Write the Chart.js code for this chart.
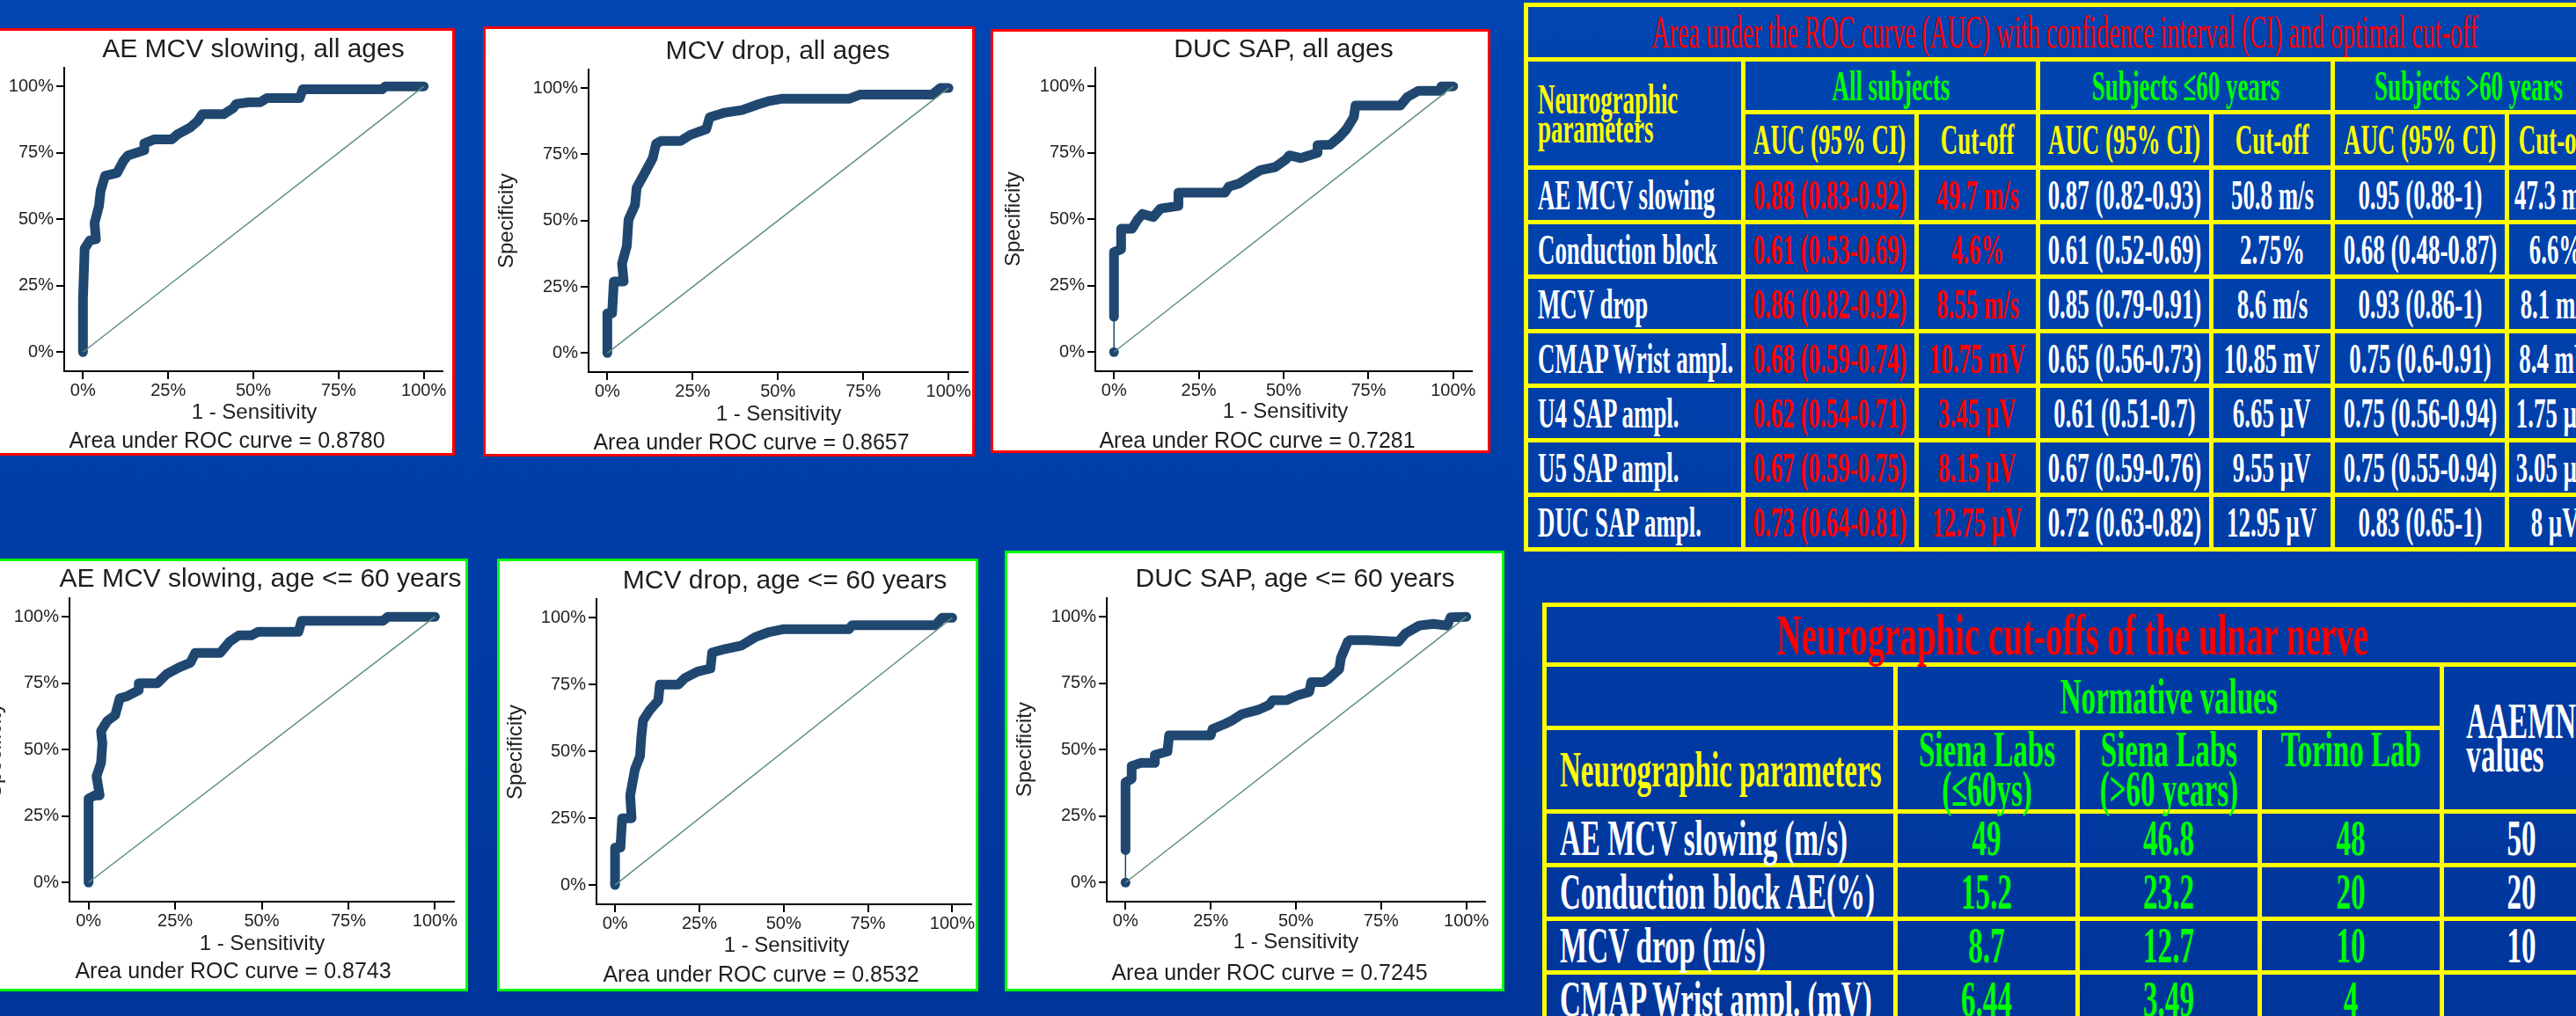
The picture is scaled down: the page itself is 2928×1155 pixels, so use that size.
<!DOCTYPE html>
<html>
<head>
<meta charset="utf-8">
<script src="https://cdn.jsdelivr.net/npm/chart.js@4.4.1/dist/chart.umd.min.js"></script>
<style>
  body { margin:0; width:2928px; height:1155px; overflow:hidden; position:relative;
         background:linear-gradient(180deg,#0045b1 0%,#003da6 55%,#00359a 100%);
         font-family:'Liberation Sans', Arial, sans-serif; }
  .panel { position:absolute; background:#fff; box-sizing:border-box; border:3px solid; overflow:hidden; }
  .panel canvas { position:absolute; left:0; top:0; }
  .lbl { position:absolute; white-space:nowrap; color:#1e1e1e; transform:translate(-50%,-50%); }
  .ttl { font-size:30px; }
  .axt { font-size:24px; }
  .note { font-size:25px; }
  .yt { font-size:24px; transform:translate(-50%,-50%) rotate(-90deg); }

  table { position:absolute; border-collapse:collapse; table-layout:fixed;
          font-family:'Liberation Serif','Times New Roman',serif; font-weight:bold; }
  td { border:5px solid #ffff00; padding:0; vertical-align:middle; overflow:visible; }
  .c { display:flex; justify-content:center; white-space:nowrap; }
  .c span { display:inline-block; transform-origin:50% 50%; }
  .l { justify-content:flex-start; }
  .l span { transform-origin:0 50%; }
  #t1 td { font-size:48px; line-height:50px; }
  #t1 .c span { transform:scaleX(.56); }
  #t1 .l { padding-left:11px; }
  #t2 td { font-size:56px; line-height:56px; }
  #t2 .c span { transform:scaleX(.59); }
  #t2 .l { padding-left:15px; }
  .red { color:#ff0000; } .grn { color:#00ff00; } .yel { color:#ffff00; } .wht { color:#ffffff; }
</style>
</head>
<body>
<div id="panels"></div>
<div id="tables"></div>

<script>
// ROC curves: x = 1 - Sensitivity (%), y = Specificity (%)
const aeAllX = [0, 0, 0.5, 2, 3.8, 3.4, 4.7, 5.2, 6.5, 10, 11.8, 13.2, 18, 18, 20.8, 26, 27.8, 31.5, 33.7, 35, 41.3, 44, 45, 48.8, 52, 54, 63.6, 64.5, 87.8, 88.7, 100];
const aeAllY = [0, 20, 39, 42, 42.5, 48.6, 55, 60.8, 66.3, 67.4, 71.8, 74, 76, 78.5, 80, 80, 82, 84.5, 87, 89.5, 89.5, 91.7, 93.4, 94, 94, 95.6, 95.6, 98.9, 98.9, 100, 100];

const mcvAllX = [0, 0, 1.4, 1.9, 4.8, 4.3, 5.7, 6.2, 8.1, 8.6, 11, 13.3, 14.3, 15.7, 21.4, 24.3, 29, 30, 34, 39.5, 44.3, 47, 51.4, 71, 74, 95.2, 97.6, 100];
const mcvAllY = [0, 15, 15, 27, 27, 33.7, 40.3, 50.3, 55.8, 62.4, 68, 73.5, 79, 80, 80, 82.3, 84.5, 89, 90.6, 91.7, 93.9, 95, 96, 96, 97.5, 97.5, 100, 100];

const ducAllX = [0, 0, 0, 2.1, 2.1, 5.3, 6.9, 8.4, 11.6, 13.7, 19, 19, 32.7, 33.8, 37, 40, 43.2, 47.5, 50.6, 51.7, 55, 60, 60, 63.7, 66.5, 68.6, 70.7, 71.2, 84.4, 86.5, 89.7, 96.5, 96.5, 100];
const ducAllY = [0, 13.3, 37.6, 38.7, 46.4, 46.4, 49.7, 52, 50.8, 54, 55, 60, 60, 62.2, 63.5, 66, 68.5, 69.6, 72.4, 74, 73, 75, 77.9, 78, 81, 84, 88.4, 92.8, 92.8, 96, 98.3, 98.3, 100, 100];

const aeYoungX = [0, 0, 1.8, 3.2, 2.3, 3.6, 4, 3.6, 5.4, 7.7, 9, 10.9, 14.5, 14.5, 19.9, 22.6, 26.2, 29.4, 30.8, 38, 40.7, 43.4, 47, 48.9, 60.6, 61.5, 85, 86.4, 100];
const aeYoungY = [0, 31.6, 32.8, 32.8, 40, 45, 52.3, 57, 60.8, 63, 69.3, 70, 72.4, 75, 75, 78.5, 81, 82.7, 86.4, 86.4, 90.6, 93, 93, 94.3, 94.3, 98.5, 98.5, 100, 100];

const mcvYoungX = [0, 0, 1.6, 2.1, 4.9, 4.5, 5.9, 7.4, 7.8, 8.3, 10.2, 12.8, 13.3, 18.8, 20.7, 24.5, 28.3, 28.8, 32.9, 37.5, 41.5, 45.3, 49.8, 69.3, 70.3, 95, 97, 100];
const mcvYoungY = [0, 14, 14, 25, 25, 33.5, 43.3, 48.2, 55.5, 61.6, 65.3, 69, 75, 75, 77.4, 79.9, 81, 87, 88.4, 89.6, 92.7, 94.5, 95.7, 95.7, 97.2, 97.2, 100, 100];

const ducYoungX = [0, 0, 0, 1.8, 1.8, 4.4, 8.6, 8.6, 12.3, 12.8, 25, 25.5, 29, 31, 34, 39, 42.2, 43.2, 47.3, 50.4, 53.9, 54.5, 58.1, 59.6, 62.7, 63.2, 65.2, 65.8, 70.9, 80.1, 82.1, 86.2, 90.3, 94.4, 95.4, 100];
const ducYoungY = [0, 12.2, 37.7, 39, 43.8, 45, 45, 48, 49.3, 55.4, 55.4, 57.7, 59.6, 60.8, 63.3, 65, 66.9, 68.6, 68.6, 70.4, 71.7, 75.4, 75.4, 76.6, 80.3, 84.5, 90.6, 91.2, 91.2, 90.6, 93.7, 96.7, 97.3, 96.7, 99.8, 100];

const chartTitles = ['AE MCV slowing, all ages', 'MCV drop, all ages', 'DUC SAP, all ages',
                     'AE MCV slowing, age <= 60 years', 'MCV drop, age <= 60 years', 'DUC SAP, age <= 60 years'];
const aucValues = ['0.8780', '0.8657', '0.7281', '0.8743', '0.8532', '0.7245'];
const tickVals = [0, 25, 50, 75, 100];

// table 1
const t1Params = ['AE MCV slowing', 'Conduction block', 'MCV drop', 'CMAP Wrist ampl.', 'U4 SAP ampl.', 'U5 SAP ampl.', 'DUC SAP ampl.'];
const t1AucAll = ['0.88 (0.83-0.92)', '0.61 (0.53-0.69)', '0.86 (0.82-0.92)', '0.68 (0.59-0.74)', '0.62 (0.54-0.71)', '0.67 (0.59-0.75)', '0.73 (0.64-0.81)'];
const t1CutAll = ['49.7 m/s', '4.6%', '8.55 m/s', '10.75 mV', '3.45 µV', '8.15 µV', '12.75 µV'];
const t1AucYoung = ['0.87 (0.82-0.93)', '0.61 (0.52-0.69)', '0.85 (0.79-0.91)', '0.65 (0.56-0.73)', '0.61 (0.51-0.7)', '0.67 (0.59-0.76)', '0.72 (0.63-0.82)'];
const t1CutYoung = ['50.8 m/s', '2.75%', '8.6 m/s', '10.85 mV', '6.65 µV', '9.55 µV', '12.95 µV'];
const t1AucOld = ['0.95 (0.88-1)', '0.68 (0.48-0.87)', '0.93 (0.86-1)', '0.75 (0.6-0.91)', '0.75 (0.56-0.94)', '0.75 (0.55-0.94)', '0.83 (0.65-1)'];
const t1CutOld = ['47.3 m/s', '6.6%', '8.1 m/s', '8.4 mV', '1.75 µV', '3.05 µV', '8 µV'];

// table 2
const t2Params = ['AE MCV slowing (m/s)', 'Conduction block AE(%)', 'MCV drop (m/s)', 'CMAP Wrist ampl. (mV)'];
const t2SienaYoung = ['49', '15.2', '8.7', '6.44'];
const t2SienaOld = ['46.8', '23.2', '12.7', '3.49'];
const t2Torino = ['48', '20', '10', '4'];
const t2Aaemn = ['50', '20', '10', ''];

const seriesX = [aeAllX, mcvAllX, ducAllX, aeYoungX, mcvYoungX, ducYoungX];
const seriesY = [aeAllY, mcvAllY, ducAllY, aeYoungY, mcvYoungY, ducYoungY];
const thinStart = [false, false, true, false, false, true];

// panel boxes and plot areas (outer box coords)
const layout = [
  {box:[-47,32,564,486], area:[120,45,550,390], col:'#ff0000', t:[335,23], xt:[336,436], nt:[305,468], yt:[26,217]},
  {box:[549,30,559,489], area:[120,49,551,393], col:'#ff0000', t:[335,27], xt:[336,440], nt:[305,472], yt:[26,221]},
  {box:[1126,33,568,482], area:[119,44,547,389], col:'#ff0000', t:[333,22], xt:[335,434], nt:[303,467], yt:[25,216]},
  {box:[-41,635,573,492], area:[120,45,557,390], col:'#00ff00', t:[337,22], xt:[339,437], nt:[306,468], yt:[34,218]},
  {box:[565,635,547,492], area:[113,46,544,393], col:'#00ff00', t:[327,24], xt:[329,439], nt:[300,472], yt:[20,220]},
  {box:[1142,626,568,501], area:[116,54,546,399], col:'#00ff00', t:[330,31], xt:[331,444], nt:[301,479], yt:[22,226]}
];

const navy = '#1f4770';
const curveW = 11;
const fam = "'Liberation Sans', Arial, sans-serif";
Chart.defaults.font.family = fam;

function label(parent, cls, text, pos) {
  const d = document.createElement('div');
  d.className = 'lbl ' + cls;
  d.textContent = text;
  d.style.left = (pos[0] - 3) + 'px';
  d.style.top = (pos[1] - 3) + 'px';
  parent.appendChild(d);
}

function makePanel(i) {
  const p = layout[i];
  const div = document.createElement('div');
  div.className = 'panel';
  div.style.left = p.box[0] + 'px';
  div.style.top = p.box[1] + 'px';
  div.style.width = p.box[2] + 'px';
  div.style.height = p.box[3] + 'px';
  div.style.borderColor = p.col;
  const cv = document.createElement('canvas');
  const cw = p.box[2] - 6, ch = p.box[3] - 6;
  cv.width = cw; cv.height = ch;
  cv.style.width = cw + 'px'; cv.style.height = ch + 'px';
  div.appendChild(cv);
  document.getElementById('panels').appendChild(div);

  label(div, 'ttl', chartTitles[i], p.t);
  label(div, 'axt', '1 - Sensitivity', p.xt);
  label(div, 'note', 'Area under ROC curve = ' + aucValues[i], p.nt);
  label(div, 'yt', 'Specificity', p.yt);

  const L = p.area[0] - 3, T = p.area[1] - 3, R = p.area[2] - 3, B = p.area[3] - 3;
  const XH = 40;
  const pts = seriesX[i].map((x, k) => ({x: x, y: seriesY[i][k]}));
  const thin = thinStart[i];

  const axis = (min, max) => ({
    type: 'linear', min: min, max: max,
    afterBuildTicks: s => { s.ticks = tickVals.map(v => ({value: v})); },
    ticks: { callback: v => v + '%', font: {size: 20}, color: '#222', padding: 3, autoSkip: false, maxRotation: 0 },
    grid: { drawOnChartArea: false, drawTicks: true, tickLength: 9, color: '#000', lineWidth: 2 },
    border: { display: true, color: '#000', width: 2 }
  });
  const xAxis = axis(-5.5, 105.5);
  xAxis.afterFit = s => { s.height = XH; };
  xAxis.ticks.padding = 1;
  const yAxis = axis(-7.2, 107);
  yAxis.afterFit = s => { s.width = L; };

  new Chart(cv.getContext('2d'), {
    type: 'scatter',
    data: {
      datasets: [
        { data: [{x:0, y:0}, {x:100, y:100}], showLine: true, borderColor: '#5e8f7e',
          borderWidth: 1.5, pointRadius: 0, order: 0 },
        { data: pts, showLine: true, borderColor: navy, backgroundColor: navy,
          pointBorderWidth: 0, borderWidth: curveW,
          pointRadius: pts.map((q, k) => (thin && k === 0) ? 5.5 : 0),
          borderJoinStyle: 'round', borderCapStyle: 'round',
          segment: { borderWidth: c => (thin && c.p0DataIndex === 0) ? 1.5 : curveW },
          order: 1 }
      ]
    },
    options: {
      responsive: false,
      animation: false,
      layout: { autoPadding: false, padding: { left: 0, top: T, right: cw - R, bottom: ch - B - XH } },
      plugins: { legend: { display: false }, tooltip: { enabled: false } },
      scales: { x: xAxis, y: yAxis }
    }
  });
}

for (let i = 0; i < 6; i++) makePanel(i);

// tables
const cell = (txt, cls, extra) => `<td ${extra || ''}><div class="c ${cls}"><span>${txt}</span></div></td>`;

let t1 = `<table id="t1" style="left:1732px;top:3px;width:1225px">
  <colgroup><col style="width:247px"><col style="width:197px"><col style="width:138px"><col style="width:197px"><col style="width:138px"><col style="width:198px"><col style="width:110px"></colgroup>
  <tr style="height:62px"><td colspan="7"><div class="c red"><span data-w="939" style="font-weight:normal;font-size:52px">Area under the ROC curve (AUC) with confidence interval (CI) and optimal cut-off</span></div></td></tr>
  <tr style="height:60px">
    <td rowspan="2"><div class="c l yel"><span style="line-height:33px">Neurographic<br>parameters</span></div></td>
    ${cell('All subjects', 'grn', 'colspan="2"')}
    ${cell('Subjects ≤60 years', 'grn', 'colspan="2"')}
    ${cell('Subjects >60 years', 'grn', 'colspan="2"')}
  </tr>
  <tr style="height:63px">
    ${cell('AUC (95% CI)', 'yel')}${cell('Cut-off', 'yel')}
    ${cell('AUC (95% CI)', 'yel')}${cell('Cut-off', 'yel')}
    ${cell('AUC (95% CI)', 'yel')}${cell('Cut-off', 'yel')}
  </tr>`;
for (let i = 0; i < t1Params.length; i++) {
  t1 += `<tr style="height:62px">
    ${cell(t1Params[i], 'l wht')}
    ${cell(t1AucAll[i], 'red')}${cell(t1CutAll[i], 'red')}
    ${cell(t1AucYoung[i], 'wht')}${cell(t1CutYoung[i], 'wht')}
    ${cell(t1AucOld[i], 'wht')}${cell(t1CutOld[i], 'wht')}
  </tr>`;
}
t1 += '</table>';

let t2 = `<table id="t2" style="left:1753px;top:685px;width:1200px">
  <colgroup><col style="width:399px"><col style="width:207px"><col style="width:207px"><col style="width:207px"><col style="width:180px"></colgroup>
  <tr style="height:68px"><td colspan="5"><div class="c red"><span style="font-size:66px;line-height:62px">Neurographic cut-offs of the ulnar nerve</span></div></td></tr>
  <tr style="height:72px">
    <td></td>
    ${cell('Normative values', 'grn', 'colspan="3"')}
    <td rowspan="2"><div class="c wht"><span style="line-height:38px">AAEMN<br>values</span></div></td>
  </tr>
  <tr style="height:95px">
    ${cell('Neurographic parameters', 'l yel')}
    <td style="vertical-align:top"><div class="c grn"><span style="line-height:45px;text-align:center">Siena Labs<br>(≤60ys)</span></div></td>
    <td style="vertical-align:top"><div class="c grn"><span style="line-height:45px;text-align:center">Siena Labs<br>(>60 years)</span></div></td>
    <td style="vertical-align:top"><div class="c grn"><span style="line-height:45px">Torino Lab</span></div></td>
  </tr>`;
for (let i = 0; i < t2Params.length; i++) {
  t2 += `<tr style="height:60px">
    ${cell(t2Params[i], 'l wht')}
    ${cell(t2SienaYoung[i], 'grn')}${cell(t2SienaOld[i], 'grn')}${cell(t2Torino[i], 'grn')}
    ${cell(t2Aaemn[i], 'wht')}
  </tr>`;
}
t2 += '</table>';

document.getElementById('tables').innerHTML = t1 + t2;

// squeeze fitted titles to their measured width
document.querySelectorAll('[data-w]').forEach(el => {
  const w = el.offsetWidth;
  el.style.transform = 'scaleX(' + (Number(el.dataset.w) / w) + ')';
});
</script>
</body>
</html>
